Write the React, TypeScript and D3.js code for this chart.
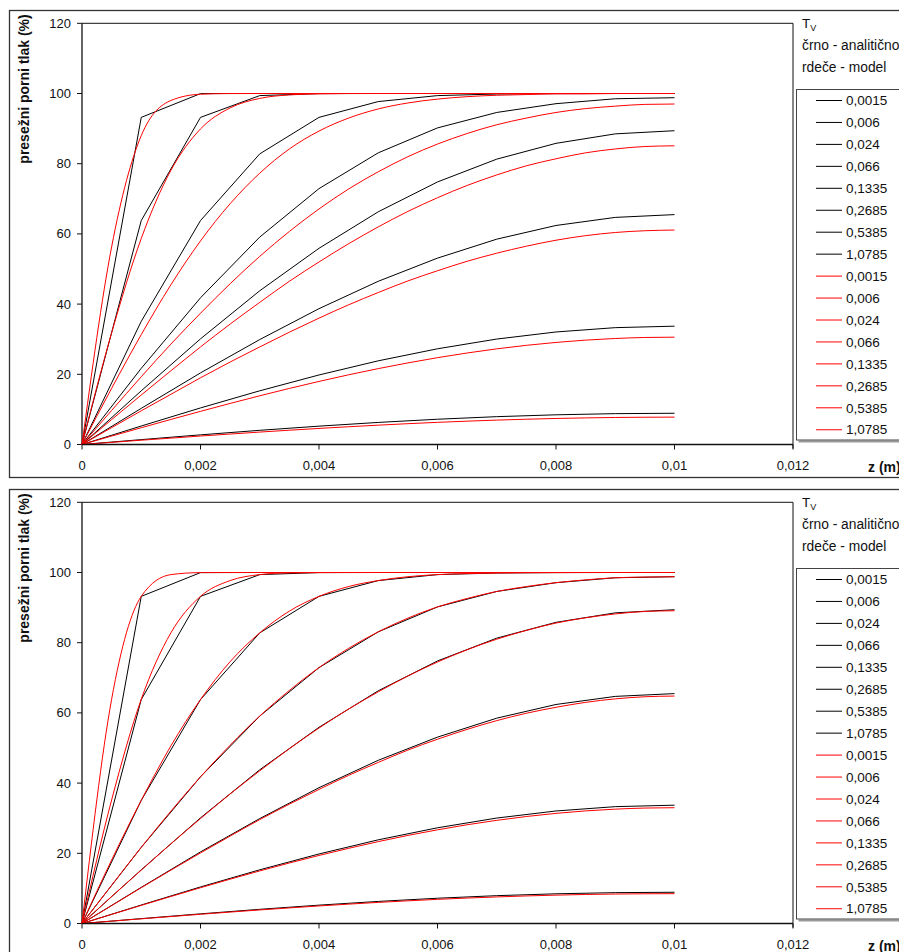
import React from "react";
import * as d3 from "d3";

// ---------- data ----------
const tvLabels = ["0,0015", "0,006", "0,024", "0,066", "0,1335", "0,2685", "0,5385", "1,0785"];
const xTicks = [0, 0.002, 0.004, 0.006, 0.008, 0.01, 0.012];
const xTickLabels = ["0", "0,002", "0,004", "0,006", "0,008", "0,01", "0,012"];
const yTicks = [0, 20, 40, 60, 80, 100, 120];

// analytic (black) – sampled every 0.001 m
const zAnalytic = [0, 0.001, 0.002, 0.003, 0.004, 0.005, 0.006, 0.007, 0.008, 0.009, 0.01];
const analytic0015 = [0, 93.2, 99.97, 100, 100, 100, 100, 100, 100, 100, 100];
const analytic006 = [0, 63.8, 93.2, 99.4, 99.97, 100, 100, 100, 100, 100, 100];
const analytic024 = [0, 35.1, 63.8, 82.8, 93.2, 97.7, 99.4, 99.85, 99.97, 100, 100];
const analytic066 = [0, 21.7, 41.8, 59.1, 72.9, 83.1, 90.2, 94.6, 97.1, 98.5, 98.8];
const analytic1335 = [0, 15.3, 30.1, 43.8, 55.9, 66.3, 74.8, 81.3, 85.8, 88.5, 89.4];
const analytic2685 = [0, 10.3, 20.4, 29.9, 38.7, 46.5, 53.1, 58.5, 62.4, 64.7, 65.5];
const analytic5385 = [0, 5.27, 10.42, 15.3, 19.81, 23.84, 27.27, 30.04, 32.06, 33.29, 33.71];
const analytic10785 = [0, 1.39, 2.75, 4.04, 5.23, 6.29, 7.2, 7.93, 8.46, 8.79, 8.9];

// model (red) – sampled every 0.0005 m
const zModel = [0, 0.0005, 0.001, 0.0015, 0.002, 0.0025, 0.003, 0.0035, 0.004, 0.0045, 0.005,
  0.0055, 0.006, 0.0065, 0.007, 0.0075, 0.008, 0.0085, 0.009, 0.0095, 0.01];

// upper chart model
const topModel0015 = [0, 56.3, 88.0, 98.0, 99.8, 100, 100, 100, 100, 100, 100, 100, 100, 100, 100, 100, 100, 100, 100, 100, 100];
const topModel006 = [0, 31.8, 58.7, 78.1, 89.9, 95.9, 98.6, 99.6, 99.9, 100, 100, 100, 100, 100, 100, 100, 100, 100, 100, 100, 100];
const topModel024 = [0, 16.0, 31.3, 45.5, 58.0, 68.6, 77.3, 84.2, 89.3, 93.0, 95.6, 97.3, 98.4, 99.1, 99.5, 99.7, 99.9, 99.9, 100, 100, 100];
const topModel066 = [0, 9.7, 19.3, 28.6, 37.4, 45.8, 53.6, 60.7, 67.1, 72.8, 77.7, 82.0, 85.6, 88.6, 91.1, 93.0, 94.6, 95.7, 96.4, 96.9, 97.0];
const topModel1335 = [0, 7.1, 14.1, 21.0, 27.8, 34.3, 40.5, 46.5, 52.0, 57.2, 62.0, 66.4, 70.3, 73.8, 76.8, 79.4, 81.4, 83.1, 84.2, 84.9, 85.1];
const topModel2685 = [0, 4.8, 9.6, 14.3, 19.0, 23.5, 27.8, 32.0, 36.0, 39.8, 43.3, 46.6, 49.5, 52.2, 54.5, 56.5, 58.2, 59.5, 60.4, 60.9, 61.1];
const topModel5385 = [0, 2.4, 4.78, 7.14, 9.45, 11.7, 13.88, 15.98, 17.97, 19.86, 21.62, 23.25, 24.74, 26.07, 27.25, 28.25, 29.08, 29.74, 30.2, 30.49, 30.58];
const topModel10785 = [0, 0.61, 1.22, 1.82, 2.41, 2.98, 3.54, 4.07, 4.58, 5.06, 5.51, 5.93, 6.31, 6.65, 6.95, 7.2, 7.42, 7.58, 7.7, 7.77, 7.8];

// lower chart model
const botModel0015 = [0, 63.9, 93.2, 99.4, 99.97, 100, 100, 100, 100, 100, 100, 100, 100, 100, 100, 100, 100, 100, 100, 100, 100];
const botModel006 = [0, 35.2, 63.9, 82.8, 93.2, 97.7, 99.4, 99.9, 99.97, 100, 100, 100, 100, 100, 100, 100, 100, 100, 100, 100, 100];
const botModel024 = [0, 18.1, 35.1, 50.6, 63.8, 74.6, 82.8, 89.0, 93.2, 96.0, 97.7, 98.8, 99.4, 99.7, 99.85, 99.94, 99.97, 100, 100, 100, 100];
const botModel066 = [0, 10.9, 21.7, 32.0, 41.8, 50.8, 59.1, 66.4, 72.9, 78.4, 83.1, 87.0, 90.2, 92.6, 94.6, 96.0, 97.1, 97.9, 98.5, 98.7, 98.8];
const botModel1335 = [0, 7.7, 15.2, 22.7, 29.9, 36.9, 43.5, 49.8, 55.7, 61.1, 66.0, 70.5, 74.5, 78.0, 81.0, 83.5, 85.6, 87.1, 88.2, 88.9, 89.1];
const botModel2685 = [0, 5.1, 10.2, 15.2, 20.1, 24.9, 29.6, 34.0, 38.2, 42.2, 45.9, 49.4, 52.5, 55.3, 57.8, 59.9, 61.6, 63.0, 64.0, 64.6, 64.8];
const botModel5385 = [0, 2.59, 5.16, 7.7, 10.19, 12.63, 14.98, 17.24, 19.39, 21.42, 23.33, 25.09, 26.69, 28.13, 29.39, 30.48, 31.38, 32.08, 32.58, 32.89, 32.99];
const botModel10785 = [0, 0.67, 1.33, 1.98, 2.63, 3.25, 3.86, 4.44, 5.0, 5.52, 6.01, 6.46, 6.88, 7.25, 7.57, 7.85, 8.08, 8.27, 8.4, 8.47, 8.5];

const analyticSeries = [analytic0015, analytic006, analytic024, analytic066, analytic1335, analytic2685, analytic5385, analytic10785];
const topModelSeries = [topModel0015, topModel006, topModel024, topModel066, topModel1335, topModel2685, topModel5385, topModel10785];
const botModelSeries = [botModel0015, botModel006, botModel024, botModel066, botModel1335, botModel2685, botModel5385, botModel10785];

// ---------- layout ----------
const W = 899;
const H = 952;
const BLACK = "#000000";
const RED = "#ff0000";
const FONT = "Arial, 'Liberation Sans', sans-serif";

function Panel({ dy, model }: { dy: number; model: number[][] }) {
  const x = d3.scaleLinear().domain([0, 0.012]).range([82, 793]);
  const y = d3.scaleLinear().domain([0, 120]).range([444.5 + dy, 23.3 + dy]);
  const lineA = d3.line<number>().x((_, i) => x(zAnalytic[i])).y((d) => y(d));
  const lineM = d3
    .line<number>()
    .x((_, i) => x(zModel[i]))
    .y((d) => y(d))
    .curve(d3.curveMonotoneX);
  const legendX = 796.5;
  const legendTop = 89.5 + dy;
  const legendBottom = 440 + dy;
  const entryY0 = 100.5 + dy;
  const entryStep = 21.95;
  const legendItems = [
    ...tvLabels.map((l) => ({ label: l, color: BLACK })),
    ...tvLabels.map((l) => ({ label: l, color: RED })),
  ];
  return (
    <g>
      {/* outer chart border */}
      <rect x={9.5} y={10.5 + dy} width={960} height={467} fill="white" stroke="#333" strokeWidth={1.3} />
      {/* plot area */}
      <line x1={x(0)} x2={x(0.012)} y1={y(120)} y2={y(120)} stroke="#111" strokeWidth={1} />
      <line x1={x(0.012)} x2={x(0.012)} y1={y(120)} y2={y(0) + 4} stroke="#111" strokeWidth={1} />
      {/* y axis */}
      <line x1={x(0)} x2={x(0)} y1={y(120)} y2={y(0)} stroke="#111" strokeWidth={1.3} />
      {yTicks.map((t) => (
        <g key={"yt" + t}>
          <line x1={x(0) - 5} x2={x(0)} y1={y(t)} y2={y(t)} stroke="#111" strokeWidth={1} />
          <text x={71} y={y(t)} dy="0.35em" textAnchor="end" fontSize={13} fontFamily={FONT} fill="#111">
            {t}
          </text>
        </g>
      ))}
      {/* x axis */}
      {xTicks.map((t, i) => (
        <g key={"xt" + i}>
          <line x1={x(t)} x2={x(t)} y1={y(0)} y2={y(0) + 5} stroke="#111" strokeWidth={1} />
          <text x={x(t)} y={y(0) + 21} dy="0.35em" textAnchor="middle" fontSize={13} fontFamily={FONT} fill="#111">
            {xTickLabels[i]}
          </text>
        </g>
      ))}
      {/* axis titles */}
      <text
        transform={`translate(24, ${89 + dy}) rotate(-90)`}
        textAnchor="middle"
        dy="0.35em"
        fontSize={14}
        fontWeight="bold"
        fontFamily={FONT}
        fill="#111"
      >
        presežni porni tlak (%)
      </text>
      <text x={868} y={467 + dy} dy="0.35em" fontSize={14} fontWeight="bold" fontFamily={FONT} fill="#111">
        z (m)
      </text>
      {/* series */}
      {analyticSeries.map((s, i) => (
        <path key={"a" + i} d={lineA(s) || ""} fill="none" stroke={BLACK} strokeWidth={1} />
      ))}
      {model.map((s, i) => (
        <path key={"m" + i} d={lineM(s) || ""} fill="none" stroke={RED} strokeWidth={1} />
      ))}
      {/* x axis line on top */}
      <line x1={x(0)} x2={x(0.012)} y1={y(0)} y2={y(0)} stroke="#111" strokeWidth={1.6} />
      {/* legend titles */}
      <text x={802} y={23 + dy} dy="0.35em" fontSize={13.5} fontFamily={FONT} fill="#111">
        T<tspan fontSize={9} dy="3">V</tspan>
      </text>
      <text x={802} y={45 + dy} dy="0.35em" fontSize={13.8} fontFamily={FONT} fill="#111">
        črno - analitično
      </text>
      <text x={802} y={67 + dy} dy="0.35em" fontSize={13.8} fontFamily={FONT} fill="#111">
        rdeče - model
      </text>
      {/* legend box */}
      <line x1={legendX + 2} x2={960} y1={legendBottom + 1.5} y2={legendBottom + 1.5} stroke="#999" strokeWidth={2} />
      <rect x={legendX} y={legendTop} width={200} height={legendBottom - legendTop} fill="white" stroke="#444" strokeWidth={1} />
      {legendItems.map((it, i) => {
        const yy = entryY0 + i * entryStep;
        return (
          <g key={"lg" + i}>
            <line x1={816} x2={842} y1={yy} y2={yy} stroke={it.color} strokeWidth={1} />
            <text x={846} y={yy} dy="0.35em" fontSize={13.5} fontFamily={FONT} fill="#111">
              {it.label}
            </text>
          </g>
        );
      })}
    </g>
  );
}

export default function App() {
  return (
    <svg
      width={W}
      height={H}
      viewBox={`0 0 ${W} ${H}`}
      style={{ position: "absolute", left: 0, top: 0, background: "white" }}
    >
      <rect x={0} y={0} width={W} height={H} fill="white" />
      <Panel dy={0} model={topModelSeries} />
      <Panel dy={479} model={botModelSeries} />
    </svg>
  );
}
